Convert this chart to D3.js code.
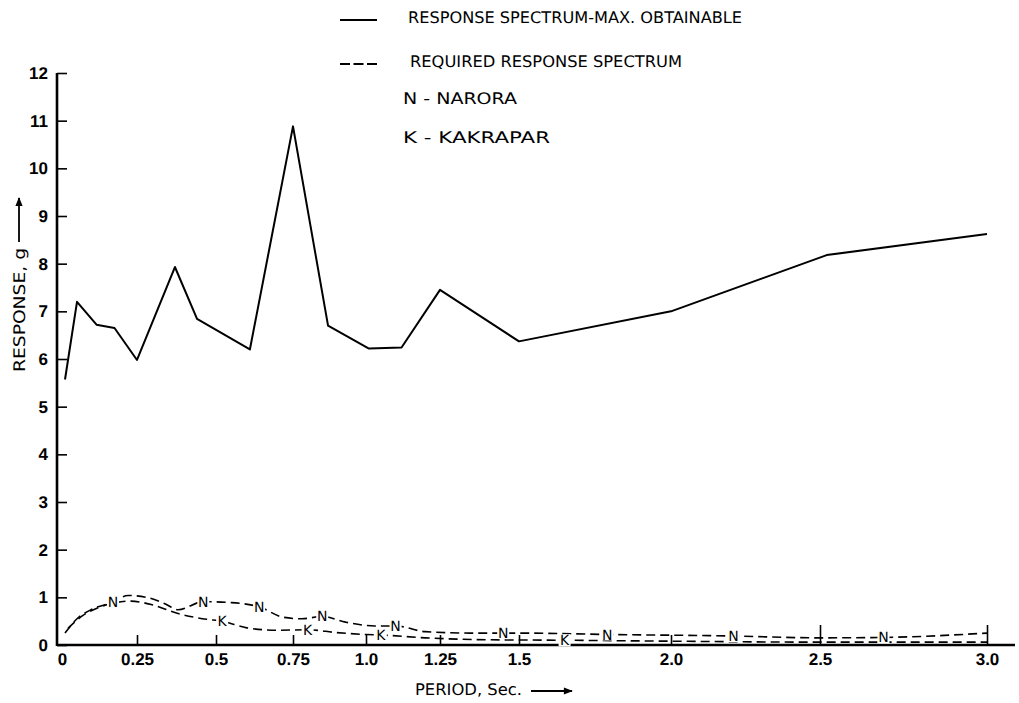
<!DOCTYPE html>
<html>
<head>
<meta charset="utf-8">
<script src="https://cdn.jsdelivr.net/npm/d3@7"></script>
<style>
  html, body { margin: 0; padding: 0; background: #fff; }
  svg { display: block; }
  .tick text { font-family: "Liberation Sans", Arial, sans-serif; font-size: 17px; fill: #000; }
  text { text-rendering: geometricPrecision; }
</style>
</head>
<body>
<svg id="chart" width="1019" height="703"></svg>
<script>
// Response spectrum: maximum obtainable (solid)
const maxPeriod   = [0.01, 0.05, 0.115, 0.175, 0.25, 0.37, 0.44, 0.61, 0.75, 0.87, 1.01, 1.12, 1.25, 1.5, 2.0, 2.52, 3.0];
const maxResponse = [5.57, 7.2, 6.72, 6.65, 5.98, 7.93, 6.84, 6.2, 10.88, 6.7, 6.22, 6.24, 7.45, 6.37, 7.0, 8.18, 8.62];

// Required response spectrum, Narora site (dashed, "N")
const naroraPeriod   = [0.01, 0.05, 0.1, 0.17, 0.22, 0.28, 0.34, 0.38, 0.46, 0.55, 0.64, 0.72, 0.78, 0.85, 0.93, 1.03, 1.1, 1.2, 1.35, 1.5, 1.8, 2.2, 2.5, 2.7, 3.0];
const naroraResponse = [0.25, 0.55, 0.75, 0.9, 1.04, 1.0, 0.86, 0.74, 0.91, 0.89, 0.8, 0.58, 0.55, 0.6, 0.48, 0.4, 0.4, 0.28, 0.25, 0.25, 0.22, 0.19, 0.15, 0.16, 0.25];

// Required response spectrum, Kakrapar site (dashed, "K")
const kakraparPeriod   = [0.02, 0.07, 0.12, 0.17, 0.23, 0.3, 0.38, 0.47, 0.52, 0.6, 0.7, 0.8, 0.9, 1.0, 1.05, 1.2, 1.4, 1.65, 2.0, 2.5, 3.0];
const kakraparResponse = [0.35, 0.62, 0.78, 0.88, 0.92, 0.84, 0.66, 0.54, 0.5, 0.36, 0.31, 0.32, 0.26, 0.22, 0.21, 0.15, 0.11, 0.1, 0.08, 0.06, 0.06];

// Where the site letters sit along each required curve
const naroraLabelAt   = [0.17, 0.46, 0.64, 0.85, 1.10, 1.45, 1.79, 2.21, 2.69];
const kakraparLabelAt = [0.52, 0.8, 1.05, 1.65];

// Axis ticks
const xTickValues = [0, 0.25, 0.5, 0.75, 1.0, 1.25, 1.5, 2.0, 2.5, 3.0];
const xTickLabels = ["0", "0.25", "0.5", "0.75", "1.0", "1.25", "1.5", "2.0", "2.5", "3.0"];
const yTickValues = [0, 1, 2, 3, 4, 5, 6, 7, 8, 9, 10, 11, 12];

// Legend entries
const legendItems = [
  { text: "RESPONSE SPECTRUM-MAX. OBTAINABLE", line: "solid" },
  { text: "REQUIRED RESPONSE SPECTRUM", line: "dashed" },
  { text: "N - NARORA", line: null },
  { text: "K  - KAKRAPAR", line: null }
];

const svg = d3.select("#chart");
const axisX0 = 57, axisY0 = 645, axisXEnd = 1015, axisYTop = 73;
const fontMain = "'DejaVu Sans', 'Liberation Sans', sans-serif";

// Hand-ruled period axis: tick spacing is not perfectly uniform,
// so the scale is piecewise linear between the tick marks.
const x = d3.scaleLinear()
  .domain(xTickValues)
  .range([62, 137, 216, 293, 366, 440, 519, 671, 820, 987]);

const y = d3.scaleLinear().domain([0, 12]).range([axisY0, axisYTop]);

// Axis lines
svg.append("line")
  .attr("x1", axisX0).attr("x2", axisXEnd)
  .attr("y1", axisY0).attr("y2", axisY0)
  .attr("stroke", "#000").attr("stroke-width", 2.6);
svg.append("line")
  .attr("x1", axisX0).attr("x2", axisX0)
  .attr("y1", axisY0 + 1).attr("y2", axisYTop)
  .attr("stroke", "#000").attr("stroke-width", 2.6);

// Y axis (ticks point inward)
const yAxis = d3.axisLeft(y)
  .tickValues(yTickValues)
  .tickFormat(d3.format("d"))
  .tickSizeInner(-10).tickSizeOuter(0).tickPadding(9);
const gy = svg.append("g").attr("transform", `translate(${axisX0},0)`).call(yAxis);
gy.select(".domain").remove();
gy.selectAll(".tick line").attr("stroke", "#000").attr("stroke-width", 1.6);
gy.selectAll(".tick text").attr("font-weight", "bold");

// X axis (ticks point upward; the last two are ruled taller)
const xAxis = d3.axisBottom(x)
  .tickValues(xTickValues)
  .tickFormat((d, i) => xTickLabels[i])
  .tickSizeInner(-10).tickSizeOuter(0).tickPadding(8);
const gx = svg.append("g").attr("transform", `translate(0,${axisY0})`).call(xAxis);
gx.select(".domain").remove();
gx.selectAll(".tick line")
  .attr("stroke", "#000").attr("stroke-width", 1.6)
  .attr("y2", d => (d >= 2.5 ? -20 : d === 0 ? 0 : -10));
gx.selectAll(".tick text").attr("font-weight", "bold");

// Curves
const toPoints = (px, py) => px.map((p, i) => [p, py[i]]);
const lineLinear = d3.line().x(d => x(d[0])).y(d => y(d[1]));
const lineSmooth = d3.line().x(d => x(d[0])).y(d => y(d[1])).curve(d3.curveMonotoneX);

svg.append("path")
  .datum(toPoints(maxPeriod, maxResponse))
  .attr("d", lineLinear)
  .attr("fill", "none").attr("stroke", "#000")
  .attr("stroke-width", 2).attr("stroke-linejoin", "round");

const naroraPts = toPoints(naroraPeriod, naroraResponse);
const kakraparPts = toPoints(kakraparPeriod, kakraparResponse);

[naroraPts, kakraparPts].forEach(pts => {
  svg.append("path")
    .datum(pts)
    .attr("d", lineSmooth)
    .attr("fill", "none").attr("stroke", "#000")
    .attr("stroke-width", 1.6)
    .attr("stroke-dasharray", "9,5");
});

// Site letters placed on their curves
function valueAt(px, py, p) {
  const interp = d3.scaleLinear().domain(px).range(py);
  return interp(p);
}
function addLetters(letter, at, px, py) {
  const g = svg.append("g");
  // white knock-out behind each letter, then the letter itself
  g.selectAll("rect")
    .data(at)
    .join("rect")
    .attr("x", d => x(d) - 6)
    .attr("y", d => y(valueAt(px, py, d)) - 6)
    .attr("width", 12).attr("height", 12)
    .attr("fill", "#fff");
  g.selectAll("text")
    .data(at)
    .join("text")
    .attr("x", d => x(d))
    .attr("y", d => y(valueAt(px, py, d)))
    .attr("dy", "0.36em")
    .attr("text-anchor", "middle")
    .attr("font-family", fontMain)
    .attr("font-size", 14)
    .attr("fill", "#000")
    .text(letter);
}
addLetters("N", naroraLabelAt, naroraPeriod, naroraResponse);
addLetters("K", kakraparLabelAt, kakraparPeriod, kakraparResponse);

// Legend
const legendRows = [
  { yText: 23, xText: 408, width: 334 },
  { yText: 67, xText: 410, width: 272 },
  { yText: 104, xText: 403, width: 114 },
  { yText: 143, xText: 403, width: 147 }
];
legendItems.forEach((item, i) => {
  const row = legendRows[i];
  if (item.line) {
    svg.append("line")
      .attr("x1", 340).attr("x2", 377)
      .attr("y1", row.yText - 3).attr("y2", row.yText - 3)
      .attr("stroke", "#000").attr("stroke-width", 1.8)
      .attr("stroke-dasharray", item.line === "dashed" ? "10,3.5" : null);
  }
  svg.append("text")
    .attr("x", row.xText).attr("y", row.yText)
    .attr("font-family", fontMain)
    .attr("font-size", 16)
    .attr("textLength", row.width)
    .attr("lengthAdjust", "spacingAndGlyphs")
    .attr("fill", "#000")
    .text(item.text);
});

// Axis titles with arrows
const defs = svg.append("defs");
defs.append("marker")
  .attr("id", "arrowHead")
  .attr("viewBox", "0 0 10 10")
  .attr("refX", 9).attr("refY", 5)
  .attr("markerWidth", 7).attr("markerHeight", 5)
  .attr("orient", "auto")
  .append("path").attr("d", "M0,1 L10,5 L0,9 Z").attr("fill", "#000");

svg.append("text")
  .attr("x", 415).attr("y", 695)
  .attr("font-family", fontMain)
  .attr("font-size", 16)
  .attr("textLength", 107)
  .attr("lengthAdjust", "spacingAndGlyphs")
  .text("PERIOD, Sec.");
svg.append("line")
  .attr("x1", 531).attr("x2", 572)
  .attr("y1", 691).attr("y2", 691)
  .attr("stroke", "#000").attr("stroke-width", 1.8)
  .attr("marker-end", "url(#arrowHead)");

svg.append("text")
  .attr("transform", "translate(25,372) rotate(-90)")
  .attr("font-family", fontMain)
  .attr("font-size", 16)
  .attr("textLength", 124)
  .attr("lengthAdjust", "spacingAndGlyphs")
  .text("RESPONSE, g");
svg.append("line")
  .attr("x1", 19).attr("x2", 19)
  .attr("y1", 242).attr("y2", 198)
  .attr("stroke", "#000").attr("stroke-width", 1.8)
  .attr("marker-end", "url(#arrowHead)");
</script>
</body>
</html>
